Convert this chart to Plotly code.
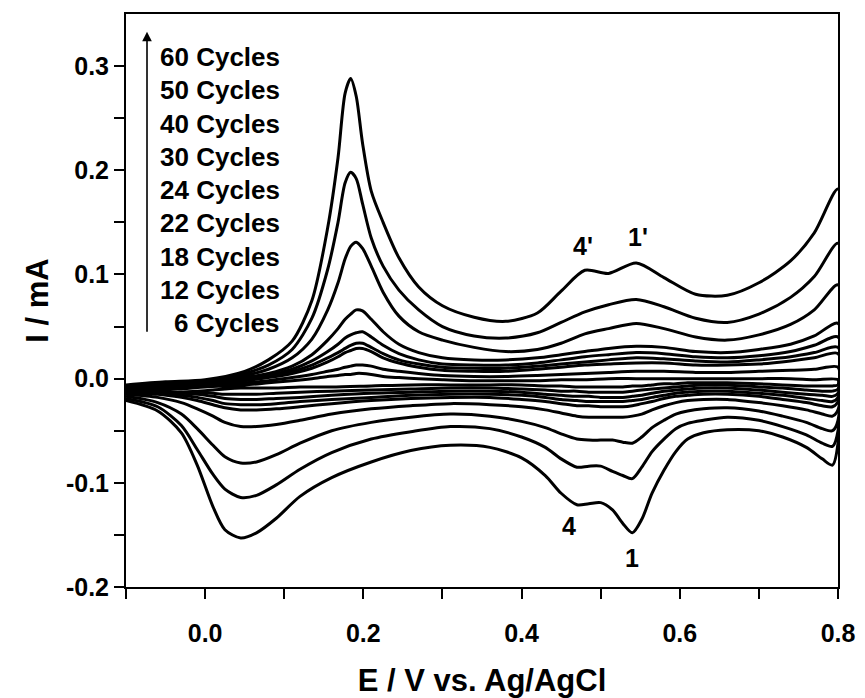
import plotly.graph_objects as go

# ---------------- data ----------------
cycle_labels = ["60 Cycles", "50 Cycles", "40 Cycles", "30 Cycles", "24 Cycles",
                "22 Cycles", "18 Cycles", "12 Cycles", "6 Cycles"]

# anodic (forward) sweep potentials, V
E_anodic = [-0.1, -0.05, 0.0, 0.05, 0.08, 0.11, 0.135, 0.155, 0.168, 0.177, 0.184, 0.191,
            0.199, 0.21, 0.225, 0.245, 0.27, 0.3, 0.34, 0.38, 0.42, 0.45, 0.48, 0.51, 0.545,
            0.58, 0.62, 0.66, 0.7, 0.74, 0.77, 0.8]

I_anodic_60 = [-0.006, -0.003, -0.001, 0.007, 0.018, 0.036, 0.075, 0.145, 0.212, 0.274, 0.288,
               0.271, 0.226, 0.180, 0.150, 0.116, 0.088, 0.070, 0.059, 0.055, 0.063, 0.084,
               0.104, 0.101, 0.111, 0.097, 0.081, 0.080, 0.092, 0.113, 0.140, 0.182]
I_anodic_50 = [-0.007, -0.004, -0.002, 0.005, 0.013, 0.028, 0.058, 0.105, 0.150, 0.188, 0.198,
               0.192, 0.168, 0.135, 0.108, 0.085, 0.066, 0.050, 0.041, 0.039, 0.044, 0.054,
               0.064, 0.071, 0.076, 0.069, 0.058, 0.054, 0.062, 0.078, 0.098, 0.130]
I_anodic_40 = [-0.008, -0.005, -0.002, 0.003, 0.009, 0.020, 0.038, 0.066, 0.092, 0.115, 0.127,
               0.131, 0.125, 0.108, 0.083, 0.060, 0.045, 0.037, 0.030, 0.026, 0.028, 0.034,
               0.043, 0.048, 0.053, 0.048, 0.040, 0.037, 0.042, 0.052, 0.066, 0.090]
I_anodic_30 = [-0.009, -0.006, -0.003, 0.001, 0.005, 0.012, 0.023, 0.037, 0.048, 0.057, 0.062,
               0.066, 0.065, 0.057, 0.045, 0.033, 0.025, 0.020, 0.018, 0.018, 0.020, 0.023,
               0.026, 0.029, 0.031, 0.030, 0.026, 0.025, 0.028, 0.033, 0.041, 0.053]
I_anodic_24 = [-0.010, -0.007, -0.004, 0.000, 0.003, 0.009, 0.017, 0.026, 0.033, 0.039, 0.042,
               0.044, 0.045, 0.040, 0.032, 0.024, 0.018, 0.014, 0.013, 0.013, 0.015, 0.018,
               0.021, 0.023, 0.025, 0.024, 0.021, 0.020, 0.022, 0.026, 0.032, 0.040]
I_anodic_22 = [-0.011, -0.008, -0.005, -0.001, 0.002, 0.007, 0.013, 0.020, 0.025, 0.029, 0.032,
               0.034, 0.034, 0.030, 0.024, 0.018, 0.014, 0.011, 0.010, 0.010, 0.012, 0.014,
               0.016, 0.018, 0.020, 0.019, 0.017, 0.016, 0.018, 0.021, 0.025, 0.030]
I_anodic_18 = [-0.012, -0.009, -0.006, -0.002, 0.001, 0.005, 0.010, 0.016, 0.021, 0.025, 0.027,
               0.029, 0.029, 0.026, 0.020, 0.015, 0.011, 0.008, 0.007, 0.007, 0.009, 0.011,
               0.013, 0.014, 0.015, 0.015, 0.013, 0.013, 0.014, 0.017, 0.020, 0.024]
I_anodic_12 = [-0.013, -0.010, -0.007, -0.004, -0.002, 0.001, 0.004, 0.007, 0.009, 0.011, 0.012,
               0.013, 0.013, 0.012, 0.009, 0.007, 0.005, 0.003, 0.002, 0.002, 0.003, 0.004,
               0.005, 0.006, 0.007, 0.007, 0.006, 0.006, 0.007, 0.008, 0.009, 0.011]
I_anodic_6 = [-0.014, -0.011, -0.008, -0.006, -0.004, -0.002, 0.000, 0.002, 0.003, 0.004, 0.004,
              0.005, 0.005, 0.004, 0.002, 0.001, 0.000, -0.001, -0.002, -0.002, -0.002, -0.001,
              -0.001, 0.000, 0.000, 0.000, 0.000, 0.000, 0.000, 0.000, -0.001, -0.001]

# cathodic (reverse) sweep potentials, V
E_cathodic = [0.8, 0.793, 0.78, 0.76, 0.73, 0.7, 0.66, 0.63, 0.61, 0.595, 0.58, 0.565, 0.552,
              0.54, 0.528, 0.515, 0.5, 0.485, 0.47, 0.45, 0.43, 0.4, 0.36, 0.31, 0.26, 0.21,
              0.16, 0.12, 0.09, 0.065, 0.045, 0.025, 0.01, -0.01, -0.03, -0.06, -0.1]

I_cathodic_60 = [-0.062, -0.083, -0.077, -0.066, -0.056, -0.050, -0.049, -0.052, -0.058, -0.070,
                 -0.088, -0.110, -0.135, -0.148, -0.139, -0.126, -0.119, -0.120, -0.121, -0.110,
                 -0.093, -0.076, -0.066, -0.064, -0.069, -0.080, -0.095, -0.113, -0.134, -0.148,
                 -0.153, -0.145, -0.123, -0.083, -0.052, -0.031, -0.021]
I_cathodic_50 = [-0.050, -0.065, -0.062, -0.054, -0.046, -0.040, -0.037, -0.040, -0.043, -0.048,
                 -0.058, -0.070, -0.085, -0.096, -0.093, -0.089, -0.084, -0.084, -0.085, -0.077,
                 -0.066, -0.056, -0.048, -0.046, -0.051, -0.058, -0.071, -0.087, -0.102, -0.112,
                 -0.114, -0.106, -0.092, -0.068, -0.045, -0.027, -0.019]
I_cathodic_40 = [-0.040, -0.050, -0.048, -0.042, -0.036, -0.031, -0.028, -0.029, -0.031, -0.034,
                 -0.040, -0.047, -0.056, -0.062, -0.061, -0.059, -0.059, -0.059, -0.058, -0.053,
                 -0.047, -0.041, -0.036, -0.034, -0.037, -0.042, -0.050, -0.062, -0.073, -0.080,
                 -0.081, -0.075, -0.064, -0.048, -0.034, -0.023, -0.017]
I_cathodic_30 = [-0.030, -0.036, -0.034, -0.030, -0.026, -0.023, -0.020, -0.020, -0.021, -0.023,
                 -0.026, -0.030, -0.034, -0.036, -0.037, -0.037, -0.037, -0.037, -0.036, -0.033,
                 -0.030, -0.027, -0.025, -0.024, -0.026, -0.029, -0.034, -0.040, -0.044, -0.046,
                 -0.046, -0.042, -0.036, -0.029, -0.023, -0.018, -0.015]
I_cathodic_24 = [-0.022, -0.027, -0.026, -0.023, -0.020, -0.017, -0.015, -0.015, -0.016, -0.017,
                 -0.019, -0.022, -0.024, -0.026, -0.027, -0.027, -0.027, -0.026, -0.026, -0.024,
                 -0.022, -0.020, -0.018, -0.018, -0.019, -0.021, -0.024, -0.027, -0.029, -0.030,
                 -0.030, -0.028, -0.025, -0.021, -0.018, -0.015, -0.014]
I_cathodic_22 = [-0.018, -0.022, -0.021, -0.019, -0.016, -0.014, -0.012, -0.012, -0.013, -0.014,
                 -0.016, -0.018, -0.020, -0.021, -0.022, -0.022, -0.022, -0.022, -0.021, -0.020,
                 -0.018, -0.016, -0.015, -0.015, -0.016, -0.018, -0.020, -0.022, -0.024, -0.025,
                 -0.025, -0.024, -0.021, -0.018, -0.016, -0.014, -0.013]
I_cathodic_18 = [-0.014, -0.017, -0.016, -0.015, -0.013, -0.011, -0.009, -0.009, -0.010, -0.011,
                 -0.012, -0.014, -0.016, -0.017, -0.018, -0.018, -0.018, -0.017, -0.017, -0.016,
                 -0.015, -0.013, -0.012, -0.012, -0.013, -0.014, -0.016, -0.018, -0.019, -0.020,
                 -0.020, -0.019, -0.017, -0.015, -0.014, -0.013, -0.012]
I_cathodic_12 = [-0.010, -0.012, -0.012, -0.011, -0.009, -0.008, -0.006, -0.006, -0.007, -0.008,
                 -0.009, -0.010, -0.011, -0.012, -0.013, -0.013, -0.013, -0.013, -0.012, -0.012,
                 -0.011, -0.010, -0.009, -0.009, -0.010, -0.011, -0.012, -0.013, -0.014, -0.015,
                 -0.015, -0.015, -0.014, -0.013, -0.013, -0.013, -0.013]
I_cathodic_6 = [-0.006, -0.007, -0.007, -0.007, -0.006, -0.005, -0.004, -0.004, -0.004, -0.005,
                -0.005, -0.006, -0.007, -0.007, -0.008, -0.008, -0.008, -0.008, -0.008, -0.007,
                -0.007, -0.006, -0.006, -0.006, -0.006, -0.007, -0.008, -0.008, -0.009, -0.009,
                -0.009, -0.010, -0.011, -0.012, -0.013, -0.014, -0.014]

anodic_series = [I_anodic_60, I_anodic_50, I_anodic_40, I_anodic_30, I_anodic_24,
                 I_anodic_22, I_anodic_18, I_anodic_12, I_anodic_6]
cathodic_series = [I_cathodic_60, I_cathodic_50, I_cathodic_40, I_cathodic_30, I_cathodic_24,
                   I_cathodic_22, I_cathodic_18, I_cathodic_12, I_cathodic_6]

peak_labels = ["4'", "1'", "4", "1"]
peak_E = [0.478, 0.547, 0.46, 0.54]
peak_I = [0.127, 0.136, -0.141, -0.172]

x_tickvals = [-0.1, 0.0, 0.1, 0.2, 0.3, 0.4, 0.5, 0.6, 0.7, 0.8]
x_ticktext = ["", "0.0", "", "0.2", "", "0.4", "", "0.6", "", "0.8"]
y_tickvals = [-0.2, -0.15, -0.1, -0.05, 0.0, 0.05, 0.1, 0.15, 0.2, 0.25, 0.3]
y_ticktext = ["-0.2", "", "-0.1", "", "0.0", "", "0.1", "", "0.2", "", "0.3"]

# ---------------- figure ----------------
FONT = "Liberation Sans, Arial, sans-serif"
fig = go.Figure()

for lab, ia, ic in zip(cycle_labels, anodic_series, cathodic_series):
    xs = E_anodic + E_cathodic
    ys = ia + ic
    fig.add_trace(go.Scatter(
        x=xs, y=ys, mode="lines", name=lab,
        line=dict(color="black", width=3, shape="spline", smoothing=0.8),
        showlegend=False, hoverinfo="skip"))

# legend-like text list with arrow
top_px, step_px = 57, 33.3
plot_top, plot_h = 14, 573
for i, lab in enumerate(cycle_labels):
    ypx = top_px + i * step_px
    fig.add_annotation(x=0.219, y=(plot_top + plot_h - ypx) / plot_h,
                       xref="x domain", yref="y domain",
                       text="<b>" + lab + "</b>", showarrow=False, xanchor="right",
                       yanchor="middle", font=dict(family=FONT, size=26, color="black"))
fig.add_annotation(x=0.0295, y=0.969, ax=0.0295, ay=0.443, xref="x domain", yref="y domain",
                   axref="x domain", ayref="y domain", text="", showarrow=True, arrowhead=2,
                   arrowsize=1.2, arrowwidth=1.6, arrowcolor="black")

for t, ex, iy in zip(peak_labels, peak_E, peak_I):
    fig.add_annotation(x=ex, y=iy, text="<b>" + t + "</b>", showarrow=False,
                       font=dict(family=FONT, size=25, color="black"))

axis_common = dict(showline=True, linecolor="black", linewidth=2, mirror=True,
                   ticks="outside", ticklen=10, tickwidth=2, tickcolor="black",
                   showgrid=False, zeroline=False, automargin=False,
                   tickfont=dict(family=FONT, size=25, color="black", weight="bold"))

fig.update_xaxes(range=[-0.1, 0.8], tickvals=x_tickvals, ticktext=x_ticktext,
                 title=dict(text="<b>E / V vs. Ag/AgCl</b>",
                            font=dict(family=FONT, size=31, color="black"), standoff=24),
                 ticklabelstandoff=13, **axis_common)
fig.update_yaxes(range=[-0.2, 0.35], tickvals=y_tickvals, ticktext=y_ticktext,
                 title=dict(text="<b>I / mA</b>",
                            font=dict(family=FONT, size=31, color="black"), standoff=8),
                 **axis_common)

fig.update_layout(width=865, height=698, margin=dict(l=126, r=27, t=14, b=111),
                  plot_bgcolor="white", paper_bgcolor="white", showlegend=False)

fig.write_html("out.html")
